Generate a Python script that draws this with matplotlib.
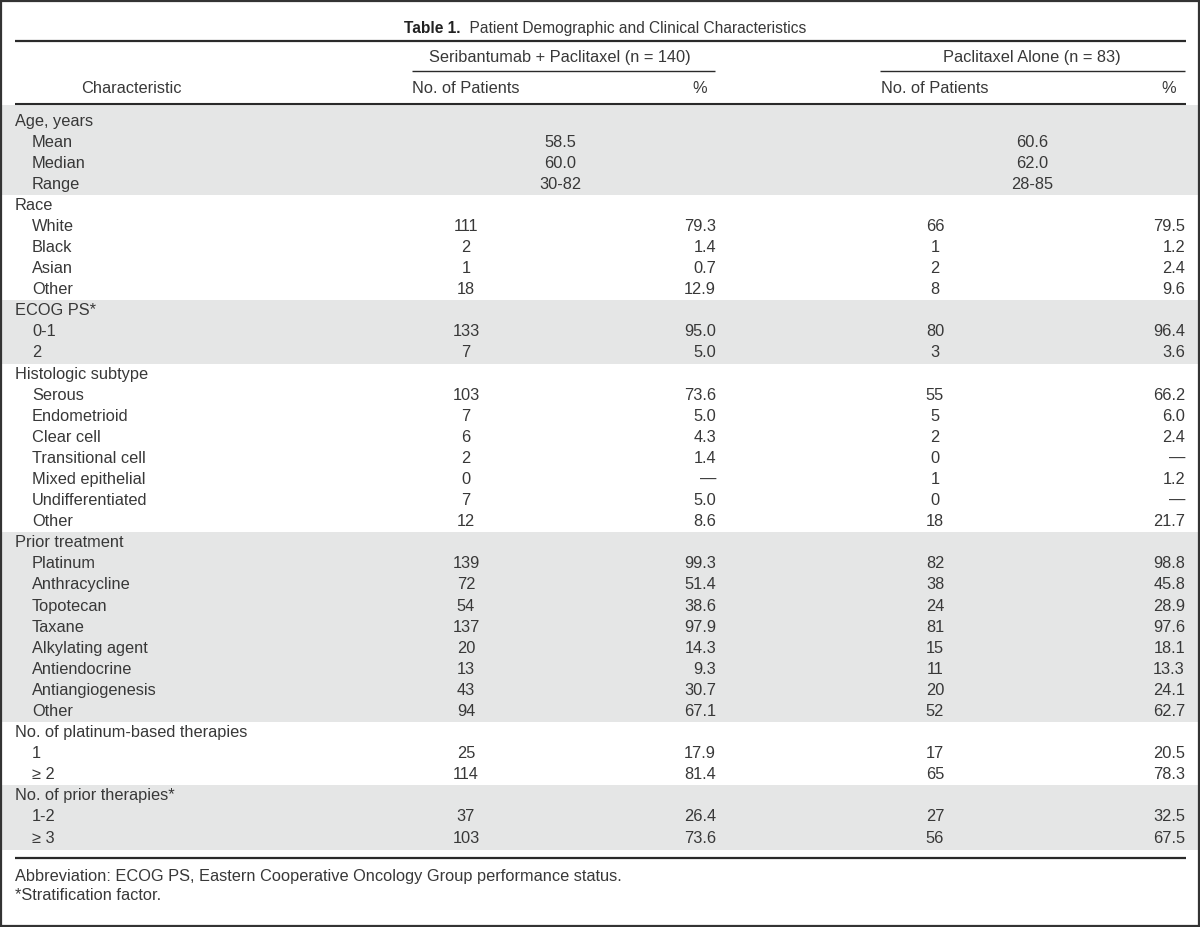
import matplotlib
matplotlib.use("Agg")
import matplotlib.pyplot as plt
from matplotlib.patches import Rectangle

plt.rcParams['font.family'] = ['Liberation Sans', 'DejaVu Sans']

# ---------------- data ----------------
title_bold = "Table 1."
title_rest = "Patient Demographic and Clinical Characteristics"
group_headers = ["Seribantumab + Paclitaxel (n = 140)", "Paclitaxel Alone (n = 83)"]
col_headers = ["Characteristic", "No. of Patients", "%", "No. of Patients", "%"]

section_titles = ["Age, years", "Race", "ECOG PS*", "Histologic subtype",
                  "Prior treatment", "No. of platinum-based therapies",
                  "No. of prior therapies*"]

age_stats = ["Mean", "Median", "Range"]
age_sera = ["58.5", "60.0", "30-82"]
age_pac = ["60.6", "62.0", "28-85"]

race_items = ["White", "Black", "Asian", "Other"]
race_n1 = [111, 2, 1, 18]
race_p1 = [79.3, 1.4, 0.7, 12.9]
race_n2 = [66, 1, 2, 8]
race_p2 = [79.5, 1.2, 2.4, 9.6]

ecog_items = ["0-1", "2"]
ecog_n1 = [133, 7]
ecog_p1 = [95.0, 5.0]
ecog_n2 = [80, 3]
ecog_p2 = [96.4, 3.6]

hist_items = ["Serous", "Endometrioid", "Clear cell", "Transitional cell",
              "Mixed epithelial", "Undifferentiated", "Other"]
hist_n1 = [103, 7, 6, 2, 0, 7, 12]
hist_p1 = [73.6, 5.0, 4.3, 1.4, None, 5.0, 8.6]
hist_n2 = [55, 5, 2, 0, 1, 0, 18]
hist_p2 = [66.2, 6.0, 2.4, None, 1.2, None, 21.7]

prior_items = ["Platinum", "Anthracycline", "Topotecan", "Taxane",
               "Alkylating agent", "Antiendocrine", "Antiangiogenesis", "Other"]
prior_n1 = [139, 72, 54, 137, 20, 13, 43, 94]
prior_p1 = [99.3, 51.4, 38.6, 97.9, 14.3, 9.3, 30.7, 67.1]
prior_n2 = [82, 38, 24, 81, 15, 11, 20, 52]
prior_p2 = [98.8, 45.8, 28.9, 97.6, 18.1, 13.3, 24.1, 62.7]

plat_items = ["1", "\u2265 2"]
plat_n1 = [25, 114]
plat_p1 = [17.9, 81.4]
plat_n2 = [17, 65]
plat_p2 = [20.5, 78.3]

ther_items = ["1-2", "\u2265 3"]
ther_n1 = [37, 103]
ther_p1 = [26.4, 73.6]
ther_n2 = [27, 56]
ther_p2 = [32.5, 67.5]

footnotes = ["Abbreviation: ECOG PS, Eastern Cooperative Oncology Group performance status.",
             "*Stratification factor."]

shaded = [True, False, True, False, True, False, True]

# ---------------- layout ----------------
W, H = 1200, 927
fig = plt.figure(figsize=(W / 100, H / 100), dpi=100)
ax = fig.add_axes([0, 0, 1, 1])
ax.set_xlim(0, W)
ax.set_ylim(H, 0)
ax.axis('off')

TXT = '#383838'
LINE = '#2a2a2a'
GRAY = '#e5e6e6'
FS = 11.8

X_LABEL, X_INDENT = 15, 32
X_N1, X_P1, X_N2, X_P2 = 466, 716, 935, 1185
X_G1, X_G2 = 560, 1032
Y0, DY = 121, 21.09


def fmt_p(v):
    return "\u2014" if v is None else f"{v:.1f}"


# build rows
rows = []  # (label, level, cells, section index)
sec = 0
rows.append((section_titles[0], 0, None, 0))
for s, a, b in zip(age_stats, age_sera, age_pac):
    rows.append((s, 1, ('span', a, b), 0))
cat_sections = [
    (race_items, race_n1, race_p1, race_n2, race_p2),
    (ecog_items, ecog_n1, ecog_p1, ecog_n2, ecog_p2),
    (hist_items, hist_n1, hist_p1, hist_n2, hist_p2),
    (prior_items, prior_n1, prior_p1, prior_n2, prior_p2),
    (plat_items, plat_n1, plat_p1, plat_n2, plat_p2),
    (ther_items, ther_n1, ther_p1, ther_n2, ther_p2),
]
for k, (items, n1, p1, n2, p2) in enumerate(cat_sections, start=1):
    rows.append((section_titles[k], 0, None, k))
    for it, a, b, c, d in zip(items, n1, p1, n2, p2):
        rows.append((it, 1, ('cells', str(a), fmt_p(b), str(c), fmt_p(d)), k))

# shaded bands
n_rows = len(rows)
for k in range(len(section_titles)):
    idx = [i for i, r in enumerate(rows) if r[3] == k]
    if not shaded[k]:
        continue
    top = Y0 + idx[0] * DY - DY / 2
    bot = Y0 + idx[-1] * DY + DY / 2
    if idx[0] == 0:
        top = 105
    if idx[-1] == n_rows - 1:
        bot = 850
    ax.add_patch(Rectangle((2, top), W - 4, bot - top, facecolor=GRAY,
                           edgecolor='none', zorder=0))

# rows text
for i, (label, level, cells, k) in enumerate(rows):
    y = Y0 + i * DY
    ax.text(X_LABEL if level == 0 else X_INDENT, y, label, fontsize=FS,
            color=TXT, ha='left', va='center')
    if cells is None:
        continue
    if cells[0] == 'span':
        ax.text(X_G1, y, cells[1], fontsize=FS, color=TXT, ha='center', va='center')
        ax.text(X_G2, y, cells[2], fontsize=FS, color=TXT, ha='center', va='center')
    else:
        ax.text(X_N1, y, cells[1], fontsize=FS, color=TXT, ha='center', va='center')
        ax.text(X_P1, y, cells[2], fontsize=FS, color=TXT, ha='right', va='center')
        ax.text(X_N2, y, cells[3], fontsize=FS, color=TXT, ha='center', va='center')
        ax.text(X_P2, y, cells[4], fontsize=FS, color=TXT, ha='right', va='center')

# headers
ax.text(X_G1, 57, group_headers[0], fontsize=FS, color=TXT, ha='center', va='center')
ax.text(X_G2, 57, group_headers[1], fontsize=FS, color=TXT, ha='center', va='center')
ax.plot([412, 715], [71, 71], color=LINE, lw=1.0, solid_capstyle='butt')
ax.plot([880, 1185], [71, 71], color=LINE, lw=1.0, solid_capstyle='butt')
ax.text(131, 88, col_headers[0], fontsize=FS, color=TXT, ha='center', va='center')
ax.text(X_N1, 88, col_headers[1], fontsize=FS, color=TXT, ha='center', va='center')
ax.text(707, 88, col_headers[2], fontsize=FS, color=TXT, ha='right', va='center')
ax.text(X_N2, 88, col_headers[3], fontsize=FS, color=TXT, ha='center', va='center')
ax.text(1176, 88, col_headers[4], fontsize=FS, color=TXT, ha='right', va='center')

# rules
ax.plot([15, 1186], [41, 41], color=LINE, lw=1.6, solid_capstyle='butt')
ax.plot([15, 1186], [104, 104], color=LINE, lw=1.5, solid_capstyle='butt')
ax.plot([15, 1186], [858, 858], color=LINE, lw=1.6, solid_capstyle='butt')

# title
fig.canvas.draw()
renderer = fig.canvas.get_renderer()
tb = ax.text(0, 28, title_bold, fontsize=11.2, fontweight='bold', color='#222222',
             ha='left', va='center')
tr = ax.text(0, 28, "  " + title_rest, fontsize=11.2, color=TXT, ha='left', va='center')
wb = tb.get_window_extent(renderer).width
wr = tr.get_window_extent(renderer).width
start = 605 - (wb + wr) / 2
tb.set_x(start)
tr.set_x(start + wb)

# footnotes
ax.text(15, 876, footnotes[0], fontsize=FS, color=TXT, ha='left', va='center')
ax.text(15, 896, footnotes[1], fontsize=FS, color=TXT, ha='left', va='center')

# frame
ax.add_patch(Rectangle((1, 1), W - 2, H - 2, facecolor='none', edgecolor='#333333',
                       lw=1.6, zorder=5))

fig.savefig("out.png", dpi=100)
